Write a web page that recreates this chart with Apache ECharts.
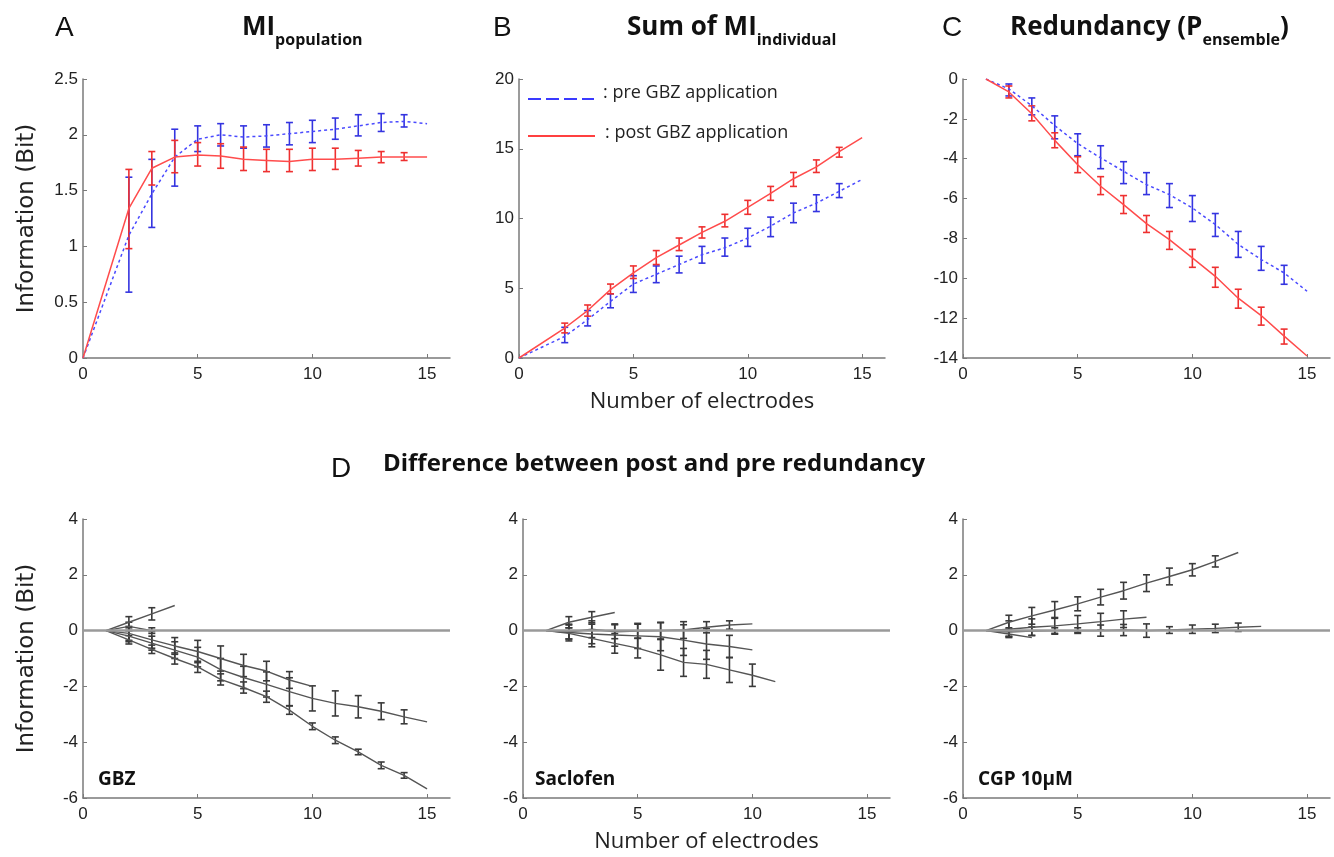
<!DOCTYPE html>
<html>
<head>
<meta charset="utf-8">
<script src="https://cdn.jsdelivr.net/npm/echarts@6/dist/echarts.min.js"></script>
<style>
  html, body { margin: 0; padding: 0; background: #fff; }
  #main { width: 1334px; height: 857px; }
</style>
</head>
<body>
<div id="main"></div>
<script>
// panel A : MI population
var xA = [0, 2, 3, 4, 5, 6, 7, 8, 9, 10, 11, 12, 13, 14, 15];
var aPost   = [0, 1.34, 1.70, 1.80, 1.82, 1.81, 1.78, 1.77, 1.76, 1.78, 1.78, 1.79, 1.80, 1.80, 1.80];
var aPostHi = [null, 1.69, 1.85, 1.95, 1.93, 1.92, 1.89, 1.87, 1.87, 1.88, 1.88, 1.86, 1.85, 1.84, null];
var aPostLo = [null, 0.98, 1.55, 1.66, 1.72, 1.70, 1.68, 1.67, 1.67, 1.68, 1.69, 1.72, 1.75, 1.77, null];
var aPre    = [0, 1.10, 1.47, 1.80, 1.96, 2.00, 1.98, 1.99, 2.01, 2.03, 2.05, 2.08, 2.11, 2.12, 2.10];
var aPreHi  = [null, 1.62, 1.78, 2.05, 2.08, 2.10, 2.08, 2.09, 2.11, 2.13, 2.15, 2.18, 2.19, 2.18, null];
var aPreLo  = [null, 0.59, 1.17, 1.54, 1.85, 1.90, 1.88, 1.89, 1.91, 1.93, 1.96, 1.99, 2.03, 2.07, null];

// panel B : sum of MI individual
var xB = [0, 2, 3, 4, 5, 6, 7, 8, 9, 10, 11, 12, 13, 14, 15];
var bPost   = [0, 2.15, 3.4, 4.9, 6.1, 7.2, 8.1, 9.0, 9.8, 10.8, 11.8, 12.85, 13.7, 14.8, 15.8];
var bPostHi = [null, 2.5, 3.8, 5.3, 6.6, 7.7, 8.6, 9.4, 10.3, 11.3, 12.3, 13.3, 14.2, 15.1, null];
var bPostLo = [null, 1.8, 3.0, 4.6, 5.7, 6.7, 7.7, 8.6, 9.4, 10.3, 11.3, 12.3, 13.3, 14.4, null];
var bPre    = [0, 1.55, 2.75, 4.06, 5.3, 6.0, 6.7, 7.4, 7.9, 8.6, 9.45, 10.4, 11.1, 11.95, 12.8];
var bPreHi  = [null, 2.2, 3.4, 4.6, 5.9, 6.6, 7.3, 8.0, 8.6, 9.3, 10.1, 11.1, 11.7, 12.5, null];
var bPreLo  = [null, 1.1, 2.3, 3.6, 4.7, 5.4, 6.1, 6.8, 7.3, 8.0, 8.7, 9.7, 10.5, 11.5, null];

// panel C : redundancy
var xC = [1, 2, 3, 4, 5, 6, 7, 8, 9, 10, 11, 12, 13, 14, 15];
var cPost   = [0, -0.65, -1.74, -3.08, -4.3, -5.38, -6.3, -7.26, -8.06, -8.98, -9.9, -11.0, -11.87, -12.9, -13.9];
var cPostHi = [null, -0.35, -1.35, -2.7, -3.9, -4.9, -5.85, -6.85, -7.65, -8.55, -9.45, -10.55, -11.45, -12.55, null];
var cPostLo = [null, -0.95, -2.1, -3.45, -4.7, -5.8, -6.75, -7.7, -8.55, -9.45, -10.45, -11.5, -12.35, -13.3, null];
var cPre    = [0, -0.5, -1.34, -2.34, -3.24, -3.96, -4.63, -5.3, -5.8, -6.47, -7.3, -8.3, -9.06, -9.73, -10.65];
var cPreHi  = [null, -0.25, -0.95, -1.85, -2.75, -3.35, -4.15, -4.7, -5.25, -5.85, -6.75, -7.65, -8.4, -9.35, null];
var cPreLo  = [null, -0.85, -1.8, -3.0, -3.85, -4.5, -5.25, -5.8, -6.45, -7.15, -7.9, -8.95, -9.6, -10.3, null];

// panel D : post - pre redundancy, one line per slice, x starts at 1
var gbzLines = [
  [0, 0.3, 0.6, 0.9],
  [0, 0.15, 0],
  [0, -0.1, -0.33, -0.55, -0.75, -1.0, -1.25, -1.45, -1.77, -2.0],
  [0, -0.2, -0.45, -0.7, -0.95, -1.4, -1.68, -1.93, -2.19, -2.43, -2.61, -2.73, -2.89, -3.09, -3.27],
  [0, -0.33, -0.67, -1.0, -1.3, -1.75, -2.04, -2.37, -2.85, -3.43, -3.93, -4.35, -4.83, -5.19, -5.67]
];
var gbzErr = [
  [0, 0.2, 0.22, 0],
  [0, 0.15, 0.1],
  [0, 0.25, 0.3, 0.3, 0.4, 0.45, 0.4, 0.35, 0.3, 0],
  [0, 0.2, 0.25, 0.3, 0.35, 0.4, 0.4, 0.45, 0.5, 0.45, 0.45, 0.4, 0.3, 0.25, 0],
  [0, 0.15, 0.15, 0.2, 0.2, 0.2, 0.2, 0.2, 0.15, 0.12, 0.12, 0.1, 0.12, 0.1, 0]
];
var sacLines = [
  [0, 0.3, 0.48, 0.65],
  [0, -0.05, 0.05, -0.04, -0.02, 0.0, 0.02, 0.12, 0.2, 0.24],
  [0, -0.07, -0.12, -0.16, -0.19, -0.22, -0.34, -0.48, -0.57, -0.69],
  [0, -0.1, -0.28, -0.46, -0.63, -0.87, -1.14, -1.21, -1.41, -1.6, -1.83]
];
var sacErr = [
  [0, 0.2, 0.2, 0],
  [0, 0.25, 0.3, 0.25, 0.25, 0.3, 0.3, 0.2, 0.15, 0],
  [0, 0.3, 0.35, 0.4, 0.45, 0.5, 0.55, 0.55, 0.4, 0],
  [0, 0.2, 0.3, 0.35, 0.35, 0.55, 0.5, 0.5, 0.45, 0.4, 0]
];
var cgpLines = [
  [0, 0.3, 0.53, 0.74, 0.96, 1.2, 1.43, 1.7, 1.94, 2.18, 2.48, 2.8],
  [0, 0.05, 0.12, 0.17, 0.24, 0.32, 0.41, 0.48],
  [0, -0.05, -0.02, 0, 0, 0, 0.02, 0.0, 0.02, 0.05, 0.08, 0.12, 0.15],
  [0, -0.12, -0.25]
];
var cgpErr = [
  [0, 0.25, 0.3, 0.3, 0.25, 0.28, 0.3, 0.3, 0.3, 0.22, 0.2, 0],
  [0, 0.3, 0.3, 0.3, 0.3, 0.3, 0.3, 0],
  [0, 0.15, 0.15, 0.1, 0.1, 0.2, 0.2, 0.24, 0.12, 0.15, 0.15, 0.15, 0],
  [0, 0.1, 0]
];

var yRanges = [[0, 2.5, 0.5], [0, 20, 5], [-14, 0, 2], [-6, 4, 2], [-6, 4, 2], [-6, 4, 2]];

var BLUE = '#4a4aff', BLUE_BAR = '#3434e0';
var RED = '#ff4c4c', RED_BAR = '#ee3030';
var GREY = '#555555';
var AXIS = '#7a7a7a';

var chartDom = document.getElementById('main');
var myChart = echarts.init(chartDom);

var grids = [
  { left: 83, top: 79, width: 367, height: 279 },
  { left: 519, top: 79, width: 366, height: 279 },
  { left: 963, top: 79, width: 367, height: 279 },
  { left: 83, top: 519, width: 367, height: 279 },
  { left: 523, top: 519, width: 367, height: 279 },
  { left: 963, top: 519, width: 367, height: 279 }
];

var tickFont = { color: '#222', fontSize: 17, fontFamily: 'Liberation Sans' };

var xAxes = grids.map(function (g, i) {
  var ax = {
    type: 'value', gridIndex: i, min: 0, max: 16, interval: 5,
    axisLine: { onZero: false, lineStyle: { color: AXIS, width: 1.5 } },
    axisTick: { inside: true, length: 4, lineStyle: { color: AXIS } },
    axisLabel: Object.assign({ showMaxLabel: false, margin: 8 }, tickFont),
    splitLine: { show: false }
  };
  if (i === 1 || i === 4) {
    ax.name = 'Number of electrodes';
    ax.nameLocation = 'middle';
    ax.nameGap = 33;
    ax.nameTextStyle = { fontSize: 22, fontFamily: 'Open Sans', color: '#222' };
  }
  return ax;
});

var yAxes = grids.map(function (g, i) {
  var r = yRanges[i];
  var ax = {
    type: 'value', gridIndex: i, min: r[0], max: r[1], interval: r[2],
    axisLine: { show: true, onZero: false, lineStyle: { color: AXIS, width: 1.5 } },
    axisTick: { show: true, inside: true, length: 4, lineStyle: { color: AXIS } },
    axisLabel: Object.assign({ margin: 5 }, tickFont),
    splitLine: { show: false }
  };
  if (i === 0 || i === 3) {
    ax.name = 'Information (Bit)';
    ax.nameLocation = 'middle';
    ax.nameGap = 44;
    ax.nameTextStyle = { fontSize: 23, fontFamily: 'DejaVu Sans', color: '#222' };
  }
  return ax;
});

function lineSeries(idx, xs, ys, color, dash, width) {
  return {
    type: 'line', xAxisIndex: idx, yAxisIndex: idx,
    data: xs.map(function (x, k) { return [x, ys[k]]; }),
    showSymbol: false, silent: true, animation: false,
    lineStyle: { color: color, width: width || 1.5, type: dash || 'solid' }
  };
}

function renderBar(color) {
  return function (params, api) {
    var x = api.value(0);
    var lo = api.coord([x, api.value(1)]);
    var hi = api.coord([x, api.value(2)]);
    var w = 3.5;
    var st = { stroke: color, lineWidth: 1.6 };
    return {
      type: 'group',
      children: [
        { type: 'line', shape: { x1: lo[0], y1: lo[1], x2: hi[0], y2: hi[1] }, style: st },
        { type: 'line', shape: { x1: lo[0] - w, y1: lo[1], x2: lo[0] + w, y2: lo[1] }, style: st },
        { type: 'line', shape: { x1: hi[0] - w, y1: hi[1], x2: hi[0] + w, y2: hi[1] }, style: st }
      ]
    };
  };
}

function barSeries(idx, data, color) {
  return {
    type: 'custom', xAxisIndex: idx, yAxisIndex: idx,
    data: data, silent: true, animation: false, clip: false,
    encode: { x: 0, y: [1, 2] },
    renderItem: renderBar(color)
  };
}

function loHiBars(xs, lo, hi) {
  var out = [];
  xs.forEach(function (x, k) {
    if (lo[k] !== null) out.push([x, lo[k], hi[k]]);
  });
  return out;
}

var series = [];
series.push(lineSeries(0, xA, aPre, BLUE, [3, 3]));
series.push(lineSeries(0, xA, aPost, RED));
series.push(barSeries(0, loHiBars(xA, aPreLo, aPreHi), BLUE_BAR));
series.push(barSeries(0, loHiBars(xA, aPostLo, aPostHi), RED_BAR));

series.push(lineSeries(1, xB, bPre, BLUE, [3, 3]));
series.push(lineSeries(1, xB, bPost, RED));
series.push(barSeries(1, loHiBars(xB, bPreLo, bPreHi), BLUE_BAR));
series.push(barSeries(1, loHiBars(xB, bPostLo, bPostHi), RED_BAR));

series.push(lineSeries(2, xC, cPre, BLUE, [3, 3]));
series.push(lineSeries(2, xC, cPost, RED));
series.push(barSeries(2, loHiBars(xC, cPreLo, cPreHi), BLUE_BAR));
series.push(barSeries(2, loHiBars(xC, cPostLo, cPostHi), RED_BAR));

function addDiffPanel(idx, lines, errs) {
  // zero reference line
  series.push({
    type: 'line', xAxisIndex: idx, yAxisIndex: idx, data: [], silent: true,
    markLine: {
      silent: true, symbol: 'none', animation: false, label: { show: false },
      lineStyle: { color: '#9a9a9a', width: 2.5, type: 'solid' },
      data: [{ yAxis: 0 }]
    }
  });
  lines.forEach(function (ys, j) {
    var xs = ys.map(function (v, k) { return k + 1; });
    series.push(lineSeries(idx, xs, ys, GREY, 'solid', 1.4));
    var bars = [];
    ys.forEach(function (v, k) {
      var e = errs[j][k];
      if (e > 0) bars.push([k + 1, v - e, v + e]);
    });
    series.push(barSeries(idx, bars, '#3a3a3a'));
  });
}
addDiffPanel(3, gbzLines, gbzErr);
addDiffPanel(4, sacLines, sacErr);
addDiffPanel(5, cgpLines, cgpErr);

var letterStyle = { fontSize: 28, fontWeight: 'normal', fontFamily: 'Liberation Sans', color: '#111' };
var headM = { fontSize: 26, fontWeight: 'bold', fontFamily: 'Open Sans', color: '#111' };
var headS = { fontSize: 16, fontWeight: 'bold', fontFamily: 'Open Sans', color: '#111', padding: [24, 0, 0, 0] };

var option = {
  animation: false,
  backgroundColor: '#fff',
  title: [
    { text: 'A', left: 55, top: 14, padding: 0, textStyle: letterStyle },
    { text: '{m|MI}{s|population}', left: 242, top: 8, padding: 0, textStyle: { rich: { m: headM, s: headS } } },
    { text: 'B', left: 493, top: 14, padding: 0, textStyle: letterStyle },
    { text: '{m|Sum of MI}{s|individual}', left: 627, top: 8, padding: 0, textStyle: { rich: { m: headM, s: headS } } },
    { text: 'C', left: 942, top: 14, padding: 0, textStyle: letterStyle },
    { text: '{m|Redundancy (P}{s|ensemble}{m|)}', left: 1010, top: 8, padding: 0, textStyle: { rich: { m: headM, s: headS } } },
    { text: 'D', left: 331, top: 455, padding: 0, textStyle: letterStyle },
    { text: 'Difference between post and pre redundancy', left: 383, top: 452, padding: 0,
      textStyle: { fontSize: 24, fontWeight: 'bold', fontFamily: 'Open Sans', color: '#111' } }
  ],
  grid: grids,
  xAxis: xAxes,
  yAxis: yAxes,
  series: series,
  graphic: [
    { type: 'line', shape: { x1: 528, y1: 99, x2: 594, y2: 99 }, style: { stroke: '#3a3aff', lineWidth: 2, lineDash: [13, 5] } },
    { type: 'text', x: 603, y: 93, style: { text: ': pre GBZ application', fontSize: 18, fontFamily: 'Open Sans', fill: '#222', verticalAlign: 'middle' } },
    { type: 'line', shape: { x1: 528, y1: 136, x2: 595, y2: 136 }, style: { stroke: '#ff4040', lineWidth: 2 } },
    { type: 'text', x: 605, y: 133, style: { text: ': post GBZ application', fontSize: 18, fontFamily: 'Open Sans', fill: '#222', verticalAlign: 'middle' } },
    { type: 'text', x: 98, y: 780, style: { text: 'GBZ', fontSize: 19, fontWeight: 'bold', fontFamily: 'Open Sans', fill: '#111', verticalAlign: 'middle' } },
    { type: 'text', x: 535, y: 780, style: { text: 'Saclofen', fontSize: 19, fontWeight: 'bold', fontFamily: 'Open Sans', fill: '#111', verticalAlign: 'middle' } },
    { type: 'text', x: 978, y: 780, style: { text: 'CGP 10\u03bcM', fontSize: 19, fontWeight: 'bold', fontFamily: 'Open Sans', fill: '#111', verticalAlign: 'middle' } }
  ]
};

option && myChart.setOption(option);
</script>
</body>
</html>
